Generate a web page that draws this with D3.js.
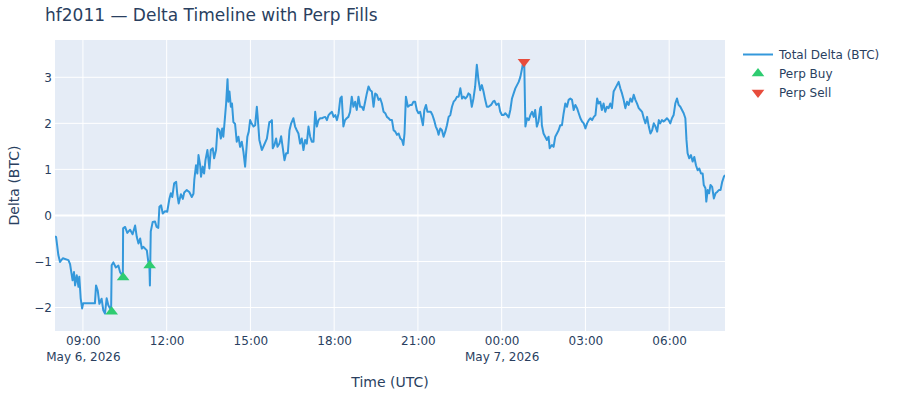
<!DOCTYPE html>
<html>
<head>
<meta charset="utf-8">
<script src="https://cdn.jsdelivr.net/npm/d3@7"></script>
<style>
    body { margin: 0; background: #fff; }
    svg { font-family: "DejaVu Sans", Verdana, sans-serif; }
</style>
</head>
<body>
<div id="chart"></div>
<script>
/*jslint browser: true*/

// hours since May 6, 2026 00:00 UTC, delta in BTC
var deltaSeries = [
    [8.00, -0.45], [8.04, -0.47], [8.12, -0.86], [8.18, -1.01], [8.28, -0.93], [8.48, -0.97], [8.54, -1.06],
    [8.63, -1.41], [8.68, -1.23], [8.72, -1.52], [8.78, -1.30], [8.84, -1.55], [8.87, -1.33], [8.92, -1.80],
    [8.97, -2.02], [9.01, -1.91], [9.43, -1.91], [9.47, -1.52], [9.53, -1.63], [9.59, -1.92], [9.67, -1.81],
    [9.73, -2.06], [9.79, -2.13], [9.85, -1.80], [9.91, -1.95], [10.01, -2.06], [10.03, -1.08], [10.09, -1.02],
    [10.18, -1.13], [10.27, -1.09], [10.33, -1.23], [10.39, -1.28], [10.43, -1.33], [10.44, -0.28], [10.51, -0.25],
    [10.59, -0.38], [10.69, -0.31], [10.78, -0.41], [10.87, -0.22], [10.93, -0.47], [10.99, -0.61], [11.05, -0.50],
    [11.11, -0.72], [11.16, -0.68], [11.29, -0.76], [11.34, -1.00], [11.38, -1.08], [11.40, -1.52], [11.43, -0.35],
    [11.50, -0.14], [11.58, -0.13], [11.64, -0.25], [11.70, -0.27],
    [11.74, 0.19], [11.80, 0.22], [11.86, 0.04], [11.94, 0.09], [12.02, 0.08], [12.10, 0.37], [12.15, 0.48],
    [12.20, 0.40], [12.27, 0.70], [12.34, 0.73], [12.38, 0.46], [12.43, 0.26], [12.51, 0.46], [12.58, 0.36],
    [12.63, 0.50], [12.72, 0.55], [12.81, 0.51], [12.90, 0.40], [12.96, 0.47], [12.99, 0.77], [13.05, 1.09],
    [13.10, 0.91], [13.14, 1.31], [13.20, 1.09], [13.23, 0.84], [13.29, 1.06], [13.34, 0.91], [13.39, 1.20],
    [13.46, 1.42], [13.53, 1.02], [13.58, 1.42], [13.65, 1.46], [13.70, 1.24], [13.77, 1.42], [13.82, 1.89],
    [13.89, 1.85], [13.94, 1.67], [13.99, 1.89], [14.03, 1.71], [14.09, 2.14], [14.13, 2.43], [14.18, 2.96],
    [14.21, 2.47], [14.25, 2.69], [14.30, 2.36], [14.34, 2.43], [14.39, 2.03], [14.45, 1.99], [14.51, 1.60],
    [14.57, 1.71], [14.63, 1.49], [14.69, 1.60], [14.75, 1.38], [14.81, 1.06], [14.85, 1.38], [14.89, 1.71],
    [14.94, 1.82], [14.99, 2.07], [15.05, 1.99], [15.11, 1.93], [15.17, 1.96], [15.23, 2.36], [15.26, 2.14],
    [15.32, 1.64], [15.41, 1.42], [15.49, 1.53], [15.59, 1.67], [15.68, 2.03],
    [15.71, 2.03], [15.77, 2.07], [15.80, 1.46], [15.86, 1.53], [15.92, 1.67], [15.97, 1.49], [16.04, 1.56],
    [16.10, 1.72], [16.16, 1.46], [16.22, 1.20], [16.28, 1.35], [16.34, 1.35], [16.40, 1.85], [16.46, 2.00],
    [16.54, 2.11], [16.60, 1.93], [16.66, 1.85], [16.72, 1.78], [16.78, 1.56], [16.84, 1.67], [16.90, 1.42],
    [16.96, 1.64], [17.02, 1.56], [17.08, 1.93], [17.14, 1.71], [17.20, 1.60], [17.26, 1.60], [17.32, 2.25],
    [17.38, 1.93], [17.44, 2.07], [17.50, 2.11], [17.56, 2.11], [17.62, 2.13], [17.68, 2.14], [17.74, 2.07],
    [17.80, 2.18], [17.86, 2.22], [17.92, 2.25], [17.98, 2.14], [18.04, 2.18], [18.10, 2.07], [18.16, 2.22],
    [18.22, 2.54], [18.27, 2.58], [18.33, 1.93], [18.39, 2.07], [18.45, 2.11], [18.51, 2.14], [18.57, 2.25],
    [18.63, 2.58], [18.69, 2.36], [18.75, 2.47], [18.81, 2.29], [18.87, 2.58], [18.93, 2.36], [18.99, 2.36],
    [19.05, 2.29], [19.11, 2.47], [19.17, 2.65], [19.23, 2.80], [19.29, 2.72], [19.35, 2.69], [19.41, 2.36],
    [19.47, 2.65], [19.53, 2.62], [19.59, 2.51], [19.65, 2.54], [19.71, 2.43], [19.77, 2.25], [19.83, 2.22],
    [19.89, 2.14], [19.95, 2.11], [20.01, 2.07], [20.07, 2.07], [20.13, 1.85], [20.19, 1.82], [20.25, 1.75],
    [20.31, 1.78], [20.37, 1.67], [20.43, 1.64], [20.48, 1.53], [20.52, 1.78], [20.57, 2.58], [20.64, 2.36],
    [20.72, 2.40], [20.78, 2.40], [20.84, 2.47], [20.90, 2.47], [20.96, 2.29], [21.02, 2.22], [21.08, 2.25],
    [21.14, 2.07], [21.18, 1.96], [21.23, 2.29], [21.29, 2.40], [21.34, 2.25], [21.40, 2.25], [21.46, 2.25],
    [21.52, 2.18], [21.58, 2.07], [21.64, 1.93], [21.70, 1.85], [21.74, 1.75], [21.80, 1.89], [21.86, 1.85],
    [21.92, 1.71], [21.98, 1.82], [22.04, 1.96], [22.10, 2.14], [22.16, 2.18], [22.22, 2.36], [22.28, 2.47],
    [22.34, 2.51], [22.40, 2.58], [22.46, 2.58], [22.52, 2.76], [22.58, 2.54], [22.64, 2.58], [22.70, 2.54],
    [22.76, 2.58], [22.81, 2.65], [22.87, 2.62], [22.93, 2.36], [22.99, 2.54], [23.05, 2.80], [23.11, 3.27],
    [23.17, 2.94], [23.23, 2.72], [23.29, 2.83], [23.35, 2.69], [23.41, 2.51], [23.47, 2.36],
    [23.53, 2.36], [23.62, 2.40], [23.69, 2.47], [23.74, 2.49], [23.81, 2.40], [23.89, 2.43], [23.95, 2.25],
    [24.01, 2.18], [24.07, 2.18], [24.13, 2.22], [24.19, 2.18], [24.25, 2.13], [24.31, 2.29], [24.37, 2.54],
    [24.43, 2.65], [24.49, 2.76], [24.55, 2.83], [24.61, 2.90], [24.67, 3.01], [24.73, 3.19], [24.76, 3.30],
    [24.81, 3.27], [24.85, 1.93], [24.91, 2.11], [24.97, 2.07], [25.03, 2.18], [25.09, 2.25], [25.15, 2.14],
    [25.20, 2.29], [25.26, 1.93], [25.32, 2.04], [25.38, 2.33], [25.41, 2.36], [25.44, 1.96], [25.50, 1.78],
    [25.56, 1.71], [25.62, 1.64], [25.68, 1.71], [25.72, 1.46], [25.80, 1.53], [25.86, 1.49], [25.92, 1.71],
    [25.98, 1.78], [26.04, 1.85], [26.10, 1.96], [26.16, 1.96], [26.22, 2.22], [26.28, 2.43], [26.34, 2.36],
    [26.40, 2.51], [26.46, 2.54], [26.52, 2.51], [26.58, 2.29], [26.64, 2.40], [26.70, 2.33], [26.76, 2.22],
    [26.82, 2.11], [26.88, 2.04], [26.94, 2.00], [27.00, 1.89], [27.06, 2.00], [27.12, 2.07], [27.18, 2.11],
    [27.24, 2.07], [27.30, 2.14], [27.36, 2.18], [27.42, 2.54], [27.47, 2.43], [27.53, 2.47], [27.59, 2.29],
    [27.65, 2.43], [27.71, 2.25], [27.77, 2.36], [27.83, 2.33], [27.89, 2.43], [27.95, 2.33], [28.01, 2.69],
    [28.07, 2.76], [28.13, 2.83], [28.19, 2.90], [28.25, 2.76], [28.31, 2.65], [28.37, 2.51], [28.43, 2.33],
    [28.49, 2.47], [28.55, 2.40], [28.61, 2.54], [28.67, 2.47], [28.73, 2.62], [28.79, 2.51], [28.85, 2.43],
    [28.91, 2.33], [28.97, 2.29], [29.03, 2.25], [29.09, 2.11], [29.15, 2.00], [29.21, 2.14], [29.27, 1.93],
    [29.33, 1.78], [29.39, 1.85], [29.45, 2.00], [29.51, 1.93], [29.57, 1.82], [29.63, 2.07], [29.68, 2.00],
    [29.74, 2.07], [29.80, 2.04], [29.86, 2.07], [29.92, 2.11], [29.98, 2.07], [30.04, 2.00], [30.10, 2.11],
    [30.16, 2.18], [30.22, 2.43], [30.28, 2.54], [30.34, 2.40], [30.40, 2.36], [30.46, 2.29], [30.52, 2.22],
    [30.58, 2.11], [30.62, 1.64], [30.66, 1.35], [30.72, 1.24], [30.78, 1.31], [30.84, 1.17], [30.90, 1.27],
    [30.96, 1.09], [31.02, 0.98], [31.08, 1.02], [31.14, 0.91], [31.20, 0.91], [31.24, 0.66], [31.30, 0.59],
    [31.33, 0.30], [31.38, 0.55], [31.43, 0.48], [31.48, 0.66], [31.54, 0.62], [31.60, 0.37], [31.66, 0.48],
    [31.72, 0.51], [31.78, 0.55], [31.84, 0.55], [31.90, 0.73], [31.96, 0.84], [32.00, 0.88]
];
var buyFills = [[10.03, -2.09], [10.44, -1.35], [11.39, -1.09]];
var sellFills = [[24.80, 3.34]];
var yTicks = [-2, -1, 0, 1, 2, 3];
var yRange = [-2.51, 3.81];
var xTickHours = [9, 12, 15, 18, 21, 24, 27, 30];
var legendItems = ['Total Delta (BTC)', 'Perp Buy', 'Perp Sell'];

(function (d3) {
    'use strict';

    var startDay = Date.UTC(2026, 4, 6);
    var toDate = function (h) { return new Date(startDay + h * 3600000); };

    var W = 900, H = 400;
    var left = 55, right = 725, top = 40, bottom = 331;
    var textColor = '#2a3f5f';
    var lineColor = '#3498db', buyColor = '#2ecc71', sellColor = '#e74c3c';

    var svg = d3.select('#chart').append('svg')
        .attr('width', W)
        .attr('height', H);

    var x = d3.scaleUtc()
        .domain(d3.extent(deltaSeries, function (d) { return toDate(d[0]); }))
        .range([left, right]);
    var y = d3.scaleLinear().domain(yRange).range([bottom, top]);

    // plotly style triangle, r = half the marker size
    var triangle = function (r, down) {
        var rt = r * 2 / Math.sqrt(3), r2 = r / 2;
        return down ?
            'M' + (-rt) + ',' + (-r2) + 'H' + rt + 'L0,' + r + 'Z' :
            'M' + (-rt) + ',' + r2 + 'H' + rt + 'L0,' + (-r) + 'Z';
    };

    svg.append('rect')
        .attr('x', left).attr('y', top)
        .attr('width', right - left).attr('height', bottom - top)
        .attr('fill', '#e5ecf6');

    svg.append('clipPath').attr('id', 'plotclip')
        .append('rect')
        .attr('x', left).attr('y', top)
        .attr('width', right - left).attr('height', bottom - top);

    // grid
    svg.append('g').selectAll('line')
        .data(xTickHours)
        .join('line')
        .attr('x1', function (d) { return x(toDate(d)); })
        .attr('x2', function (d) { return x(toDate(d)); })
        .attr('y1', top).attr('y2', bottom)
        .attr('stroke', '#fff').attr('stroke-width', 1);

    svg.append('g').selectAll('line')
        .data(yTicks)
        .join('line')
        .attr('x1', left).attr('x2', right)
        .attr('y1', function (d) { return y(d); })
        .attr('y2', function (d) { return y(d); })
        .attr('stroke', '#fff')
        .attr('stroke-width', function (d) { return d === 0 ? 2 : 1; });

    // axes
    var yAxis = svg.append('g')
        .attr('transform', 'translate(' + left + ',0)')
        .call(d3.axisLeft(y).tickValues(yTicks).tickSize(0).tickPadding(3).tickFormat(d3.format('d')));
    yAxis.select('.domain').remove();
    yAxis.selectAll('text')
        .attr('font-size', 12)
        .attr('fill', textColor);

    var hm = d3.utcFormat('%H:%M'), dayFmt = d3.utcFormat('%b %-d, %Y');
    var xAxis = svg.append('g')
        .attr('transform', 'translate(0,' + bottom + ')')
        .call(d3.axisBottom(x).tickValues(xTickHours.map(toDate)).tickSize(0).tickPadding(5.5).tickFormat(hm));
    xAxis.select('.domain').remove();
    xAxis.selectAll('text')
        .attr('font-size', 12)
        .attr('fill', textColor)
        .each(function (d, i) {
            if (i === 0 || d.getUTCHours() === 0) {
                d3.select(this).append('tspan')
                    .attr('x', 0)
                    .attr('dy', '15.5')
                    .text(dayFmt(d));
            }
        });
    xAxis.attr('font-family', null);
    yAxis.attr('font-family', null);

    // series
    var line = d3.line()
        .x(function (d) { return x(toDate(d[0])); })
        .y(function (d) { return y(d[1]); });

    svg.append('path')
        .datum(deltaSeries)
        .attr('clip-path', 'url(#plotclip)')
        .attr('d', line)
        .attr('fill', 'none')
        .attr('stroke', lineColor)
        .attr('stroke-width', 2)
        .attr('stroke-linejoin', 'round');

    svg.append('g').selectAll('path')
        .data(buyFills)
        .join('path')
        .attr('transform', function (d) { return 'translate(' + x(toDate(d[0])) + ',' + y(d[1]) + ')'; })
        .attr('d', triangle(5.5, false))
        .attr('fill', buyColor);

    svg.append('g').selectAll('path')
        .data(sellFills)
        .join('path')
        .attr('transform', function (d) { return 'translate(' + x(toDate(d[0])) + ',' + y(d[1]) + ')'; })
        .attr('d', triangle(5.5, true))
        .attr('fill', sellColor);

    // titles
    svg.append('text')
        .attr('x', 45).attr('y', 21)
        .attr('font-size', 17)
        .attr('fill', textColor)
        .text('hf2011 — Delta Timeline with Perp Fills');

    svg.append('text')
        .attr('x', (left + right) / 2).attr('y', 387)
        .attr('text-anchor', 'middle')
        .attr('font-size', 14)
        .attr('fill', textColor)
        .text('Time (UTC)');

    svg.append('text')
        .attr('transform', 'translate(19,' + (top + bottom) / 2 + ') rotate(-90)')
        .attr('text-anchor', 'middle')
        .attr('font-size', 14)
        .attr('fill', textColor)
        .text('Delta (BTC)');

    // legend
    var legend = svg.append('g').attr('transform', 'translate(743,54.5)');
    var rows = legend.selectAll('g')
        .data(legendItems)
        .join('g')
        .attr('transform', function (d, i) { return 'translate(0,' + i * 19 + ')'; });

    rows.append('text')
        .attr('x', 36)
        .attr('dy', '0.35em')
        .attr('font-size', 12)
        .attr('fill', textColor)
        .text(function (d) { return d; });

    rows.filter(function (d, i) { return i === 0; })
        .append('line')
        .attr('x1', 0).attr('x2', 30)
        .attr('stroke', lineColor)
        .attr('stroke-width', 2);

    rows.filter(function (d, i) { return i > 0; })
        .append('path')
        .attr('transform', 'translate(15,0)')
        .attr('d', function (d, i) { return triangle(5.5, i === 1); })
        .attr('fill', function (d, i) { return i === 1 ? sellColor : buyColor; });

}(window.d3));
</script>
</body>
</html>
